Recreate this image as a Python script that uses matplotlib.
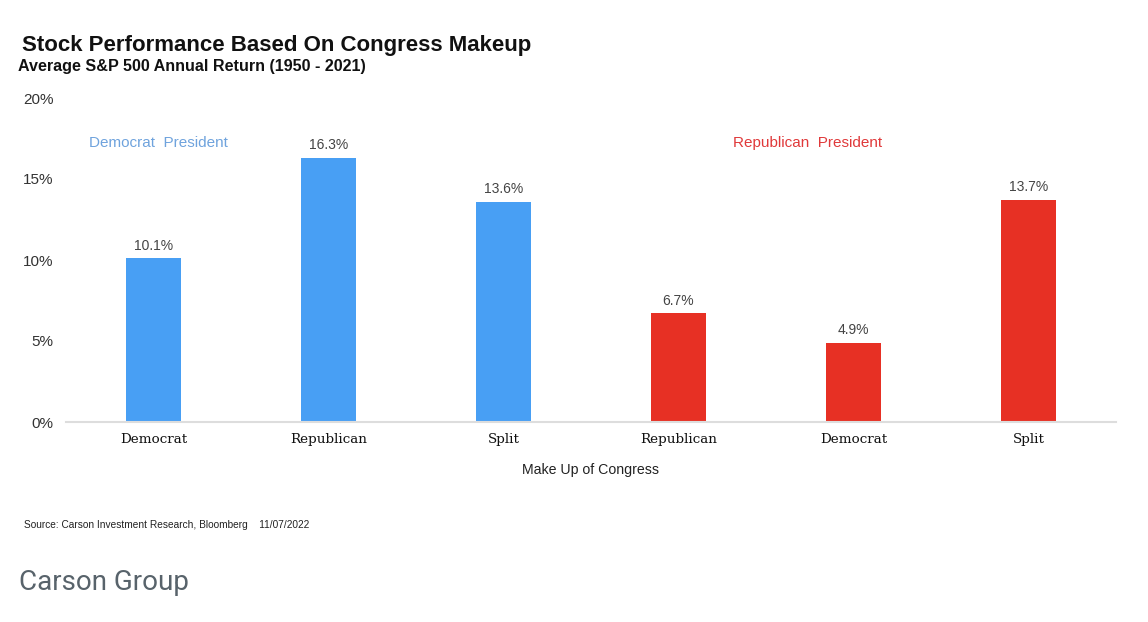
import matplotlib
matplotlib.use("Agg")
import matplotlib.pyplot as plt

categories = ["Democrat", "Republican", "Split", "Republican", "Democrat", "Split"]
values = [10.1, 16.3, 13.6, 6.7, 4.9, 13.7]
president = ["D", "D", "D", "R", "R", "R"]
yticks = [0, 5, 10, 15, 20]

BLUE = "#489ff4"
RED = "#e73024"
colors = [BLUE if p == "D" else RED for p in president]

plt.rcParams["font.family"] = ["Liberation Sans", "DejaVu Sans"]

fig = plt.figure(figsize=(11.48, 6.22), dpi=100)
ax = fig.add_axes([66 / 1148, 200 / 622, 1050 / 1148, 324 / 622])

x = list(range(len(categories)))
bars = ax.bar(x, values, width=0.315, color=colors, zorder=2)
for xi, v in zip(x, values):
    ax.text(xi, v + 0.35, f"{v:.1f}%", ha="center", va="bottom", fontsize=10, color="#444444")

ax.set_xlim(-0.5, 5.5)
ax.set_ylim(0, 20)
ax.set_yticks(yticks)
ax.set_yticklabels([f"{t}%" for t in yticks], fontsize=11, color="#333333")
ax.set_xticks(x)
ax.set_xticklabels(categories, family=["DejaVu Serif"], fontsize=9.7, color="#111111")
ax.tick_params(axis="both", length=0)
ax.tick_params(axis="y", pad=9)
ax.tick_params(axis="x", pad=8)
for s in ["top", "right", "left"]:
    ax.spines[s].set_visible(False)
ax.spines["bottom"].set_color("#dddddd")
ax.spines["bottom"].set_linewidth(1.5)

ax.set_xlabel("Make Up of Congress", fontsize=10.2, color="#222222", labelpad=12)

ax.text(0.03, 17.25, "Democrat  President", ha="center", va="center", fontsize=11, color="#6fa3dd")
ax.text(3.74, 17.25, "Republican  President", ha="center", va="center", fontsize=11, color="#e0393a")

fig.text(22 / 1148, 1 - 45 / 622, "Stock Performance Based On Congress Makeup", fontsize=16,
         fontweight="bold", va="center", ha="left", color="#111111")
fig.text(18 / 1148, 1 - 67 / 622, "Average S&P 500 Annual Return (1950 - 2021)", fontsize=11.6,
         fontweight="bold", va="center", ha="left", color="#111111")
fig.text(24 / 1148, 1 - 525 / 622, "Source: Carson Investment Research, Bloomberg    11/07/2022", fontsize=7.3,
         va="center", ha="left", color="#222222")
fig.text(19 / 1148, 1 - 582 / 622, "Carson Group", fontsize=20, va="center", ha="left",
         color="#58636b", family=["Roboto", "DejaVu Sans"])

fig.savefig("out.png", dpi=100)
